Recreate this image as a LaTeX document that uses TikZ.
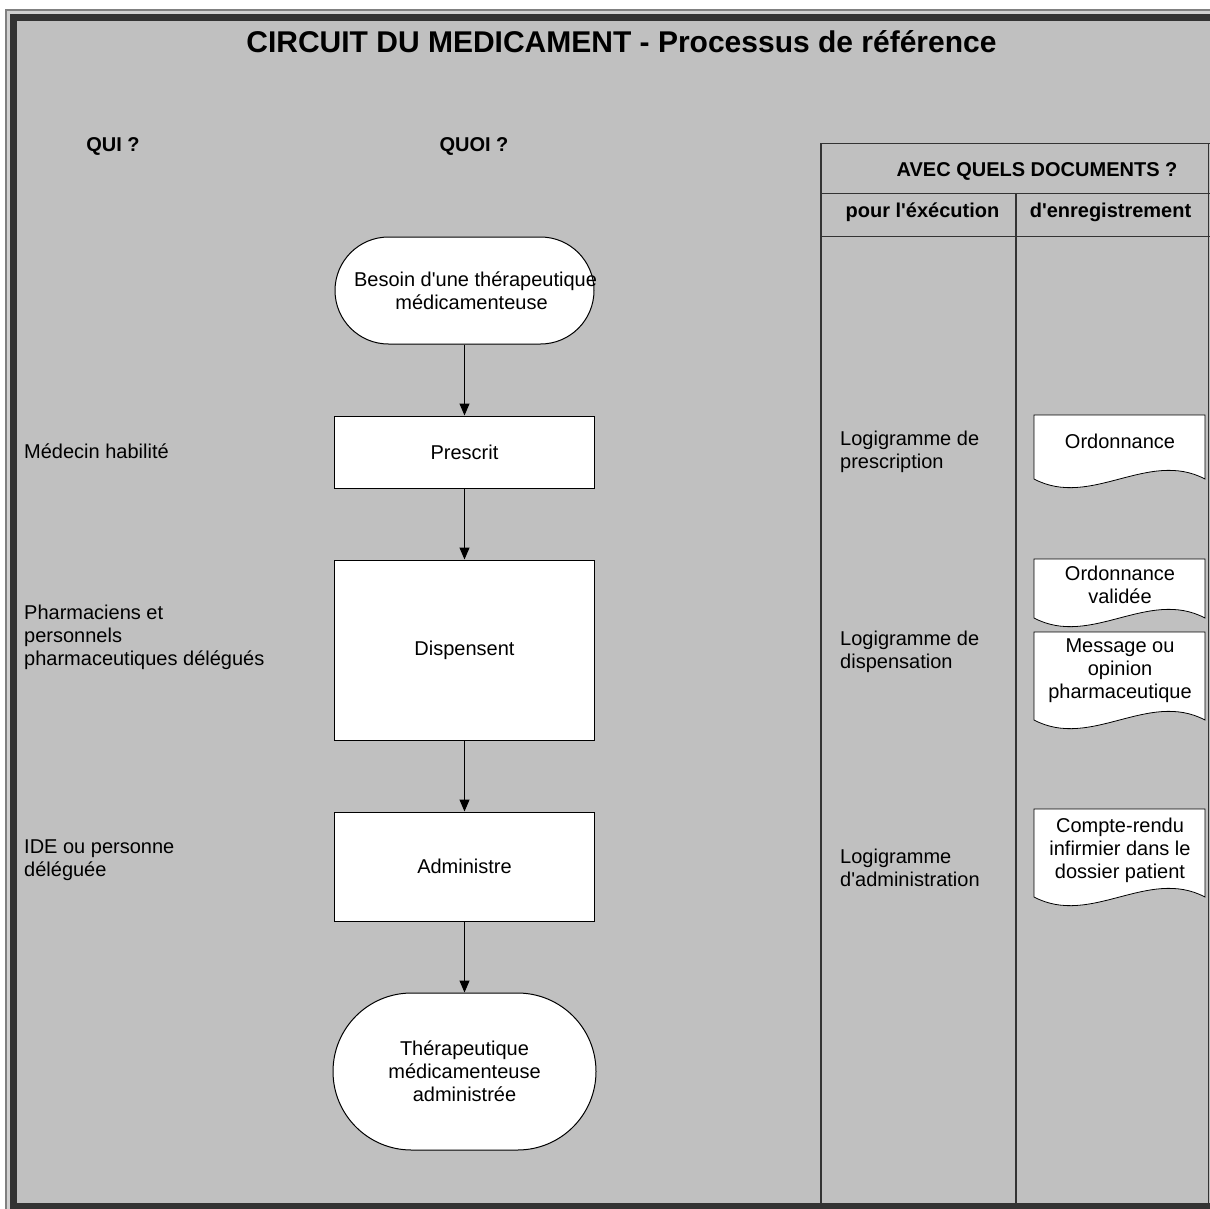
\documentclass[tikz,border=0pt]{standalone}
\usepackage{fontspec}
\setmainfont{Liberation Sans}[Ligatures=TeXOff]
\usetikzlibrary{positioning,arrows.meta}

\definecolor{panel}{HTML}{C0C0C0}
\definecolor{framedark}{HTML}{333333}
\definecolor{frameline}{HTML}{808080}
\definecolor{framegap}{HTML}{D0D0D0}

% document symbol: name, top, bottom of the wave, text y, text
\newcommand{\wavedoc}[5]{%
	\filldraw[docline] (1034,#2) -- (1205,#2) -- (1205,#3)
		.. controls (1148,#3-30) and (1091,#3+30) .. (1034,#3) -- cycle;
	\node[doctext] (#1) at (1120,#4) {#5};}

\begin{document}
\begin{tikzpicture}[x=1pt,y=-1pt,node distance=71pt,>={Triangle[width=10pt,length=12pt]},
		every node/.style={font=\fontsize{20}{23}\selectfont,align=center},
		terminal/.style={draw=black,line width=1pt,fill=white,minimum width=259pt,inner sep=0pt},
		stepbox/.style={draw=black,line width=1pt,fill=white,minimum width=260pt,inner sep=0pt},
		flow/.style={->,line width=1pt},
		tabline/.style={draw=framedark,line width=1.5pt},
		docline/.style={draw=black,line width=0.8pt,fill=white},
		doctext/.style={inner sep=0pt},
		heading/.style={font=\fontsize{20}{23}\selectfont\bfseries,inner sep=0pt},
		label/.style={anchor=west,align=left,inner sep=0pt}]
	\useasboundingbox (0,0) rectangle (1210,1208);
	\fill[white] (0,0) rectangle (1210,1208);
	\filldraw[fill=framegap,draw=frameline,line width=2pt] (6,10) rectangle (1240,1240);
	\fill[panel] (13.5,17.5) rectangle (1240,1240);

	% table of documents
	\draw[tabline] (821,1240) -- (821,143.5) -- (1240,143.5);
	\draw[tabline] (821,193.5) -- (1240,193.5);
	\draw[tabline] (821,236.5) -- (1240,236.5);
	\draw[tabline] (1016,193.5) -- (1016,1240);
	\draw[tabline] (1208.5,143.5) -- (1208.5,1240);

	\node[font=\fontsize{30}{36}\selectfont\bfseries] (title) at (621.5,42) {CIRCUIT DU MEDICAMENT - Processus de référence};
	\node[heading] (qui) at (113,146) {QUI ?};
	\node[heading] (quoi) at (474,146) {QUOI ?};
	\node[heading] (avec) at (1037,171) {AVEC QUELS DOCUMENTS ?};
	\node[heading] (exec) at (922.5,212) {pour l'éxécution};
	\node[heading] (enreg) at (1110.5,212) {d'enregistrement};

	% flow
	\node[terminal,inner xsep=-6pt,minimum height=107pt,rounded corners=53.5pt] (besoin) at (464.5,290.5) {\hspace*{22pt}Besoin d'une thérapeutique\\\hspace*{14pt}médicamenteuse};
	\node[stepbox,minimum height=72pt] (prescrit) [below=of besoin] {Prescrit};
	\node[stepbox,minimum height=180pt] (dispensent) [below=of prescrit] {Dispensent};
	\node[stepbox,minimum height=109pt] (administre) [below=of dispensent] {Administre};
	\node[terminal,minimum width=263pt,minimum height=157pt,rounded corners=78.5pt] (fin) [below=of administre] {Thérapeutique\\médicamenteuse\\administrée};
	\path
		(besoin) edge[flow] (prescrit)
		(prescrit) edge[flow] (dispensent)
		(dispensent) edge[flow] (administre)
		(administre) edge[flow] (fin);

	% who
	\node[label] (medecin) at (24,451) {Médecin habilité};
	\node[label] (pharma) at (24,637.5) {Pharmaciens et\\personnels\\pharmaceutiques délégués};
	\node[label] (ide) at (24,860.5) {IDE ou personne\\déléguée};

	% execution documents
	\node[label] (logpres) at (840,451.5) {Logigramme de\\prescription};
	\node[label] (logdisp) at (840,652) {Logigramme de\\dispensation};
	\node[label] (logadm) at (840,867.5) {Logigramme\\d'administration};

	% records
	\wavedoc{ordo}{415}{479}{441}{Ordonnance}
	\wavedoc{ordoval}{559}{618}{585}{Ordonnance\\validée}
	\wavedoc{message}{632}{720}{671}{Message ou\\opinion\\pharmaceutique}
	\wavedoc{compterendu}{809}{897}{850}{Compte-rendu\\infirmier dans le\\dossier patient}

	\draw[framedark,line width=7pt] (13.5,17.5) rectangle (1240,1206.5);
\end{tikzpicture}
\end{document}
